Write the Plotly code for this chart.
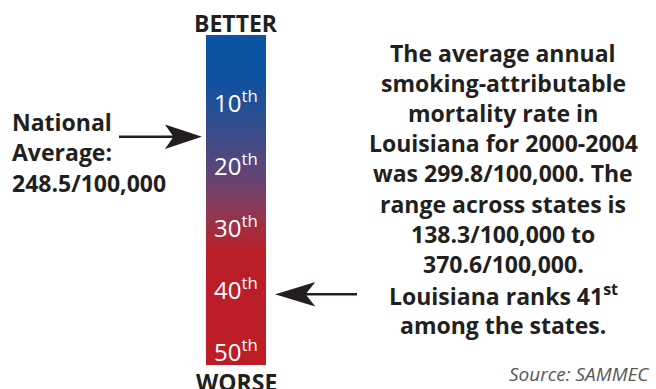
import numpy as np
import plotly.graph_objects as go

W, H = 656, 389

# ---- data ----
rank_ticks = [10, 20, 30, 40, 50]
rank_labels = ["10<sup>th</sup>", "20<sup>th</sup>", "30<sup>th</sup>", "40<sup>th</sup>", "50<sup>th</sup>"]
national_lines = ["National", "Average:", "248.5/100,000"]
national_rank = 15.6
state_rank = 41
info_lines = [
    "The average annual",
    "smoking-attributable",
    "mortality rate in",
    "Louisiana for 2000-2004",
    "was 299.8/100,000. The",
    "range across states is",
    "138.3/100,000 to",
    "370.6/100,000.",
    "Louisiana ranks 41<sup>st</sup>",
    "among the states.",
]
source_text = "Source: SAMMEC"

FONT = "Open Sans"
INK = "#231f20"

def px(x):
    return x / W

def py(y):
    return 1 - y / H

# gradient band (style only)
y_lo, y_hi = -0.8, 52.4
grid = np.linspace(y_lo, y_hi, 300)
z = [[g] for g in grid]

colorscale = [
    [0.0, "#0a53a3"],
    [0.13, "#0c52a1"],
    [0.25, "#2c4f90"],
    [0.38, "#534780"],
    [0.50, "#7e3e62"],
    [0.60, "#a82b3c"],
    [0.66, "#ba1f29"],
    [1.0, "#bc1d26"],
]

fig = go.Figure()
fig.add_trace(go.Heatmap(
    x=[0], y=grid, z=z, colorscale=colorscale, zmin=y_lo, zmax=y_hi,
    showscale=False, hoverinfo="skip",
))

ann = []
for r, lab in zip(rank_ticks, rank_labels):
    ann.append(dict(x=0, y=r, xref="x", yref="y", text=lab, showarrow=False,
                    font=dict(family=FONT, size=24, color="white"),
                    xanchor="center", yanchor="middle"))

ann.append(dict(x=px(236), y=py(23), xref="paper", yref="paper", text="<b>BETTER</b>",
                showarrow=False, font=dict(family=FONT, size=23, color=INK),
                xanchor="center", yanchor="middle"))
ann.append(dict(x=px(236), y=py(382), xref="paper", yref="paper", text="<b>WORSE</b>",
                showarrow=False, font=dict(family=FONT, size=23, color=INK),
                xanchor="center", yanchor="middle"))

left_y = [122, 152, 183]
for t, yy in zip(national_lines, left_y):
    ann.append(dict(x=px(10), y=py(yy), xref="paper", yref="paper", text="<b>%s</b>" % t,
                    showarrow=False, font=dict(family=FONT, size=23, color=INK),
                    xanchor="left", yanchor="middle"))

right_y = [53, 83, 113, 143, 173, 204, 234, 264, 295, 325]
for t, yy in zip(info_lines, right_y):
    ann.append(dict(x=px(503), y=py(yy), xref="paper", yref="paper", text="<b>%s</b>" % t,
                    showarrow=False, font=dict(family=FONT, size=23, color=INK),
                    xanchor="center", yanchor="middle"))

ann.append(dict(x=px(651), y=py(389), xref="paper", yref="paper", text="<i>%s</i>" % source_text,
                showarrow=False, font=dict(family=FONT, size=19, color="#58595b"),
                xanchor="right", yanchor="bottom"))

# arrows as pixel-sized paths anchored at the ranks
shapes = [
    dict(type="path", xref="paper", yref="y", xsizemode="pixel", ysizemode="pixel",
         xanchor=px(198), yanchor=national_rank,
         path="M-79,0 L-22,0 M0,0 L-30,10 L-23,0 L-30,-10 Z",
         fillcolor=INK, line=dict(color=INK, width=2.4)),
    dict(type="path", xref="paper", yref="y", xsizemode="pixel", ysizemode="pixel",
         xanchor=px(279), yanchor=state_rank,
         path="M78,0 L25,0 M0,0 L33,10 L25,0 L33,-10 Z",
         fillcolor=INK, line=dict(color=INK, width=2.4)),
]

fig.update_layout(
    width=W, height=H,
    margin=dict(l=0, r=0, t=0, b=0),
    paper_bgcolor="white", plot_bgcolor="white",
    xaxis=dict(domain=[px(206), px(266)], range=[-0.5, 0.5], visible=False, fixedrange=True),
    yaxis=dict(domain=[py(365), py(35)], range=[y_hi, y_lo], visible=False, fixedrange=True),
    annotations=ann,
    shapes=shapes,
    showlegend=False,
)

fig.write_html("out.html", config={"displayModeBar": False},
               post_script="document.body.style.margin='0';document.body.style.overflow='hidden';")
